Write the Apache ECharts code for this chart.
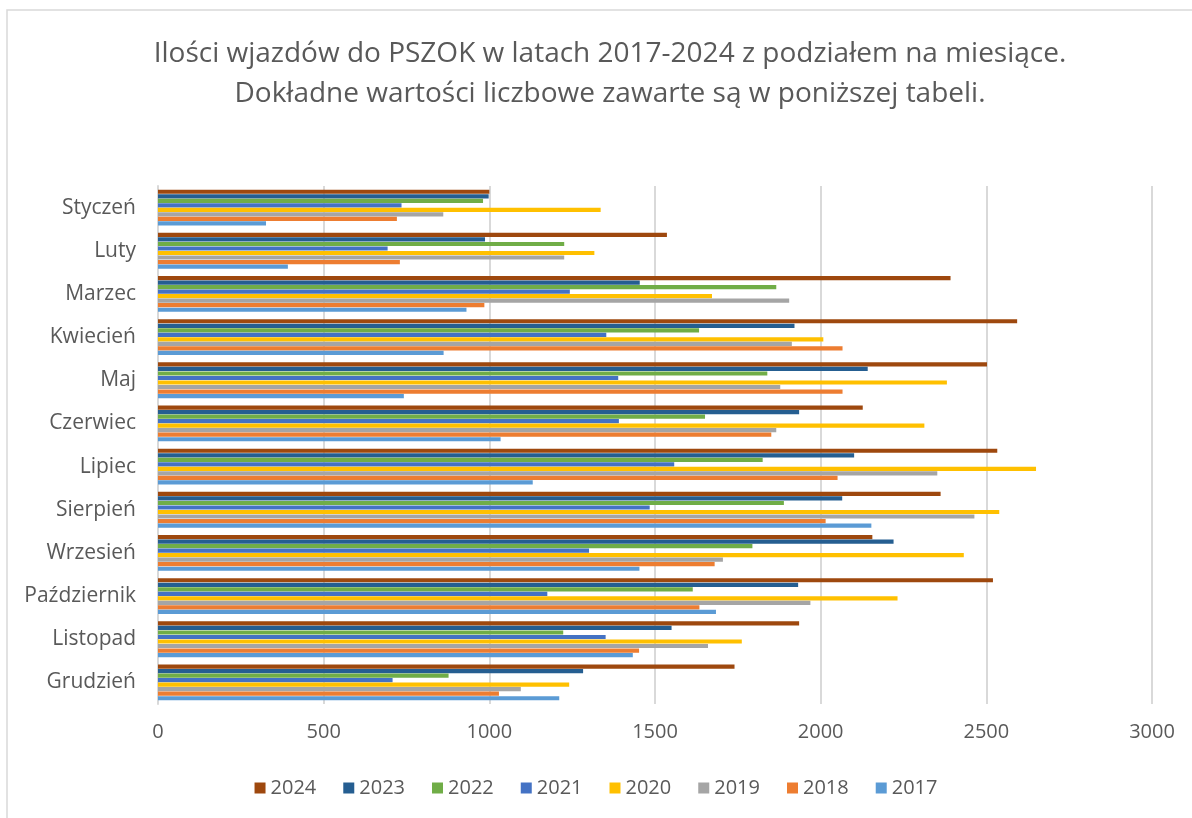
<!DOCTYPE html>
<html>
<head>
<meta charset="utf-8">
<script src="https://cdn.jsdelivr.net/npm/echarts@6/dist/echarts.min.js"></script>
<style>
  html, body { margin: 0; padding: 0; background: #fff; }
  #chart { width: 1192px; height: 818px; }
</style>
</head>
<body>
<div id="chart"></div>
<script>
// miesiące
var months = ['Styczeń', 'Luty', 'Marzec', 'Kwiecień', 'Maj', 'Czerwiec', 'Lipiec', 'Sierpień', 'Wrzesień', 'Październik', 'Listopad', 'Grudzień'];
var years = ['2024', '2023', '2022', '2021', '2020', '2019', '2018', '2017'];

// ilości wjazdów w kolejnych latach
var y2024 = [1000, 1536, 2392, 2593, 2502, 2127, 2533, 2362, 2156, 2520, 1935, 1740];
var y2023 = [998, 987, 1454, 1921, 2142, 1935, 2101, 2065, 2220, 1932, 1550, 1283];
var y2022 = [981, 1226, 1866, 1633, 1839, 1651, 1825, 1889, 1794, 1614, 1223, 877];
var y2021 = [735, 693, 1243, 1353, 1389, 1391, 1558, 1484, 1301, 1175, 1351, 708];
var y2020 = [1336, 1317, 1672, 2008, 2381, 2313, 2650, 2539, 2432, 2232, 1762, 1241];
var y2019 = [861, 1226, 1905, 1913, 1878, 1866, 2352, 2464, 1705, 1969, 1660, 1095];
var y2018 = [721, 730, 985, 2066, 2066, 1851, 2051, 2015, 1680, 1634, 1452, 1029];
var y2017 = [326, 392, 931, 862, 742, 1034, 1131, 2153, 1453, 1684, 1433, 1211];

var values = [y2024, y2023, y2022, y2021, y2020, y2019, y2018, y2017];
var colors = ['#9E480E', '#255E91', '#70AD47', '#4472C4', '#FFC000', '#A5A5A5', '#ED7D31', '#5B9BD5'];

var chart = echarts.init(document.getElementById('chart'));

var series = years.map(function (y, i) {
  return {
    name: y,
    type: 'bar',
    data: values[i],
    barGap: '8%',
    barCategoryGap: '17%',
    itemStyle: { color: colors[i] }
  };
});

var font = '"Open Sans", sans-serif';

var option = {
  animation: false,
  textStyle: { fontFamily: font },
  color: colors,
  title: {
    text: 'Ilości wjazdów do PSZOK w latach 2017-2024 z podziałem na miesiące.\nDokładne wartości liczbowe zawarte są w poniższej tabeli.',
    left: 605,
    top: 29,
    textAlign: 'center',
    textStyle: {
      fontFamily: font,
      fontSize: 28,
      fontWeight: 'normal',
      color: '#595959',
      lineHeight: 40
    }
  },
  legend: {
    bottom: 15,
    left: 'center',
    itemWidth: 11,
    itemHeight: 11,
    itemGap: 27,
    icon: 'rect',
    textStyle: { fontFamily: font, fontSize: 20, color: '#595959' },
    data: years
  },
  grid: {
    left: 158,
    right: 40,
    top: 186,
    bottom: 114,
    containLabel: false
  },
  xAxis: {
    type: 'value',
    min: 0,
    max: 3000,
    interval: 500,
    axisLine: { show: false },
    axisTick: { show: false },
    axisLabel: {
      fontFamily: font, fontSize: 20, color: '#595959', margin: 18,
      formatter: function (v) { return String(v); }
    },
    splitLine: { lineStyle: { color: '#d9d9d9', width: 2 } }
  },
  yAxis: {
    type: 'category',
    data: months,
    inverse: true,
    axisLine: { lineStyle: { color: '#d9d9d9', width: 2 } },
    axisTick: { show: false },
    axisLabel: { fontFamily: font, fontSize: 21, color: '#595959', margin: 22 }
  },
  graphic: [{
    type: 'rect',
    shape: { x: 7, y: 10, width: 1200, height: 820 },
    style: { fill: 'none', stroke: '#d9d9d9', lineWidth: 1.5 },
    silent: true
  }],
  series: series
};

chart.setOption(option);
</script>
</body>
</html>
